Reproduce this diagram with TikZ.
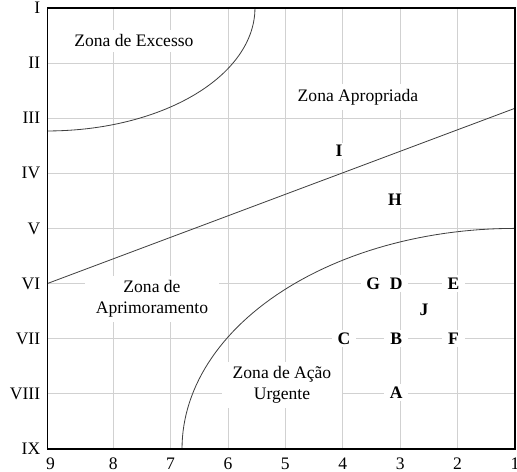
\documentclass[tikz,border=0pt]{standalone}
\usepackage{fontspec}
\setmainfont{Liberation Serif}
\usetikzlibrary{positioning}

\tikzset{
  gridline/.style={draw=black!18, line width=0.8pt},
  border/.style={draw=black!75, line width=0.7pt},
  zone/.style={fill=white, align=center, inner xsep=9pt, inner ysep=4pt},
  pt/.style={fill=white, font=\fontsize{15}{18}\selectfont\bfseries, inner xsep=5pt, inner ysep=2pt},
}

\begin{document}
\begin{tikzpicture}[x=-1.722cm, y=-1.653cm, font=\fontsize{15}{18}\selectfont]

\def\xl{9.145}
\useasboundingbox (9.972,0.855) rectangle (0.965,9.421);

% grid
\foreach \x in {2,...,8} \draw[gridline] (\x,1) -- (\x,9);
\foreach \y in {2,...,8} \draw[gridline] (\xl,\y) -- (1,\y);

% zone labels
\node[zone] (excesso) at (7.638,1.599) {Zona de Excesso};
\node[zone] (apropriada) at (3.735,2.615) {Zona Apropriada};
\node[zone] (aprimoramento) at (7.324,6.281) {Zona de\\Aprimoramento};
\node[zone] (urgente) at (5.059,7.842) {Zona de Ação\\Urgente};

% points
\node[pt] (ptI) at (4.066,3.595) {I};
\node[pt] (ptH) at (3.09,4.485) {H};
\node[pt] (ptG) at (3.47,6) {G};
\node[pt] (ptD) at (3.07,6) {D};
\node[pt] (ptE) at (2.07,6) {E};
\node[pt] (ptJ) at (2.585,6.48) {J};
\node[pt] (ptC) at (3.98,7) {C};
\node[pt] (ptB) at (3.07,7) {B};
\node[pt] (ptF) at (2.07,7) {F};
\node[pt] (ptA) at (3.07,7.98) {A};

% zone borders
\draw[border] plot[domain=0:90,samples=60] ({\xl-3.615*sin(\x)},{1+2.232*cos(\x)});
\draw[border] plot[domain=0:90,samples=60] ({1+5.801*cos(\x)},{9-4*sin(\x)});
\draw[border] (\xl,6) -- (1,2.82);

\draw[line width=1.4pt] (\xl,1) rectangle (1,9);

% axis labels
\foreach \n [count=\i] in {I,II,III,IV,V,VI,VII,VIII,IX}
  \node[anchor=east, inner xsep=6pt] (lev\i) at (\xl,\i) {\n};
\foreach \v in {1,...,8}
  \node[inner sep=0.5pt] (num\v) at (\v,9.27) {\v};
\node[inner sep=0.5pt] (num9) at (9.09,9.27) {9};

\end{tikzpicture}
\end{document}
